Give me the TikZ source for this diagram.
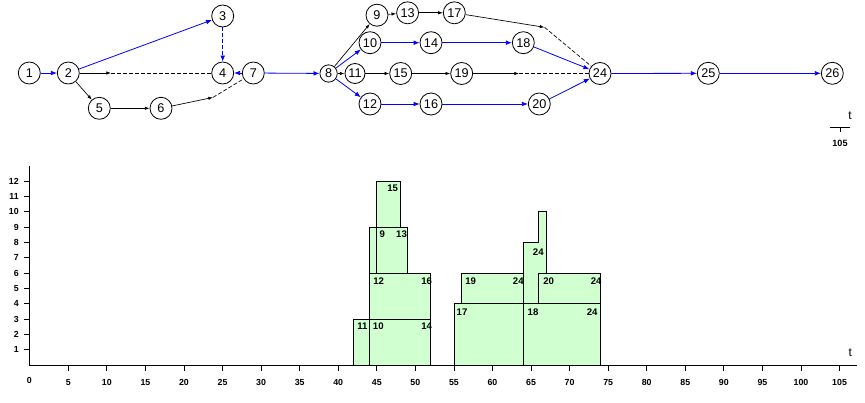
\documentclass[tikz,border=0pt]{standalone}
\usepackage{fontspec}
\setmainfont{Liberation Sans}
\usetikzlibrary{arrows.meta}
\definecolor{hgreen}{RGB}{208,255,208}
\definecolor{eblue}{RGB}{0,0,255}
\begin{document}
\begin{tikzpicture}[x=0.75pt,y=-0.75pt,
 ev/.style={circle,draw,line width=0.6pt,minimum size=16.5pt,inner sep=0pt,fill=white,font=\fontsize{9.5}{10}\selectfont},
 bl/.style={eblue,line width=0.6pt,-{Latex[length=4.5pt,width=3.5pt]}},
 bk/.style={black,line width=0.5pt,-{Latex[length=3.5pt,width=2.5pt]}},
 dsh/.style={dash pattern=on 3pt off 1.5pt},
 bkdash/.style={black,line width=0.5pt,dsh},
 hbox/.style={fill=hgreen,draw=black,line width=0.6pt},
 hlab/.style={inner sep=0pt,font=\bfseries\fontsize{7.2}{8}\selectfont},
 alab/.style={inner sep=0pt,font=\bfseries\fontsize{6.6}{7}\selectfont},
]
\useasboundingbox (0,0) rectangle (865,403);
% ---------------- network ----------------
\node[ev] (n1) at (29.3,73) {1};
\node[ev] (n2) at (68.3,73) {2};
\node[ev] (n3) at (222.7,16) {3};
\node[ev] (n4) at (222.7,73) {4};
\node[ev] (n7) at (253.3,73) {7};
\node[ev] (n5) at (99.3,108.3) {5};
\node[ev] (n6) at (161,108.3) {6};
\node[ev,minimum size=13pt] (n8) at (328.6,73.5) {8};
\node[ev] (n9) at (377,15.2) {9};
\node[ev] (n13) at (407.6,12.8) {13};
\node[ev] (n17) at (454.3,12.8) {17};
\node[ev] (n10) at (370,42.7) {10};
\node[ev] (n14) at (431,42.7) {14};
\node[ev] (n18) at (523.3,42.7) {18};
\node[ev,minimum size=15pt] (n11) at (355,73.5) {11};
\node[ev] (n15) at (400.7,73.5) {15};
\node[ev] (n19) at (461.7,73.5) {19};
\node[ev] (n24) at (600,73.5) {24};
\node[ev] (n12) at (370,104) {12};
\node[ev] (n16) at (431,104) {16};
\node[ev] (n20) at (539.3,104) {20};
\node[ev] (n25) at (708.3,73.3) {25};
\node[ev] (n26) at (832.3,73.3) {26};
\coordinate (m1) at (111,73);
\coordinate (m2) at (213,97.4);
\coordinate (m3) at (544.5,27.3);
\coordinate (m4) at (519,73.5);
% edges
\draw[bl] (n1) -- (n2);
\draw[bl] (n2) -- (n3);
\draw[bl,dsh] (n3) -- (n4);
\draw[bl] (n7) -- (n4);
\draw[bk] (n2) -- (m1); \draw[bkdash] (m1) -- (n4);
\draw[bk] (n2) -- (n5);
\draw[bk] (n5) -- (n6);
\draw[bk] (n6) -- (m2); \draw[bkdash] (m2) -- (n7);
\draw[bl] (n7) -- (n8);
\draw[bk] (n8) -- (n9);
\draw[bk] (n9) -- (n13);
\draw[bk] (n13) -- (n17);
\draw[bk] (n17) -- (m3); \draw[bkdash] (m3) -- (n24);
\draw[bl] (n8) -- (n10);
\draw[bl] (n10) -- (n14);
\draw[bl] (n14) -- (n18);
\draw[bl] (n18) -- (n24);
\draw[bk] (n8) -- (n11);
\draw[bk] (n11) -- (n15);
\draw[bk] (n15) -- (n19);
\draw[bk] (n19) -- (m4); \draw[bkdash] (m4) -- (n24);
\draw[bl] (n8) -- (n12);
\draw[bl] (n12) -- (n16);
\draw[bl] (n16) -- (n20);
\draw[bl] (n20) -- (n24);
\draw[bl] (n24) -- (n25);
\draw[bl] (n25) -- (n26);
% scale mark
\draw[line width=0.6pt] (830,127.3) -- (850,127.3);
\draw[line width=0.6pt] (840,127.3) -- (840,132.5);
\node[inner sep=0pt,font=\fontsize{9}{10}\selectfont] (tt) at (850,115.5) {t};
\node[inner sep=0pt,font=\bfseries\fontsize{6.8}{8}\selectfont] (t105) at (840,143.7) {105};
% ---------------- histogram ----------------
\begin{scope}[shift={(29.7,365)},x=5.785pt,y=11.5pt]
\draw[hbox] (42,0) rectangle (44,3);
\draw[hbox] (44,0) rectangle (52,3);
\draw[hbox] (44,3) rectangle (52,6);
\draw[hbox] (44,6) rectangle (49,9);
\draw[hbox] (45,9) rectangle (48,12);
\draw[line width=0.6pt] (45,6) -- (45,9);
\draw[hbox] (55,0) rectangle (64,4);
\draw[hbox] (56,4) rectangle (64,6);
\draw[hbox] (64,0) rectangle (74,4);
\draw[hbox] (64,4) -- (64,8) -- (66,8) -- (66,10) -- (67,10) -- (67,4) -- cycle;
\draw[hbox] (66,4) rectangle (74,6);
\end{scope}
\node[hlab] (l11) at (362.5,326) {11};
\node[hlab] (l10) at (378.3,326) {10};
\node[hlab] (l14) at (426.7,326) {14};
\node[hlab] (l12) at (378.7,280.7) {12};
\node[hlab] (l16) at (426.7,280.7) {16};
\node[hlab] (l9) at (382.2,234.3) {9};
\node[hlab] (l13) at (401.5,234.3) {13};
\node[hlab] (l15) at (392.7,188.3) {15};
\node[hlab] (l19) at (470.7,280.7) {19};
\node[hlab] (l24a) at (518.3,280.7) {24};
\node[hlab] (l20) at (548.7,280.7) {20};
\node[hlab] (l24b) at (596.2,280.7) {24};
\node[hlab] (l17) at (462,311.7) {17};
\node[hlab] (l18) at (533,311.7) {18};
\node[hlab] (l24c) at (592.2,311.7) {24};
\node[hlab] (l24d) at (538.3,251.7) {24};
% axes
\draw[line width=0.7pt] (29.7,165.7) -- (29.7,365) -- (857,365);
\foreach \k in {1,...,21} {
  \pgfmathtruncatemacro\v{5*\k}
  \draw[line width=0.6pt] ({29.7+7.713*5*\k},365) -- ({29.7+7.713*5*\k},370.7);
  \node[alab] (x\k) at ({29.7+7.713*5*\k},382.7) {\v};
}
\node[alab] (x0) at (29.3,380) {0};
\foreach \j in {1,...,12} {
  \draw[line width=0.6pt] (24,{365-15.33*\j}) -- (29.7,{365-15.33*\j});
  \node[alab,anchor=east] (y\j) at (19,{365-15.33*\j}) {\j};
}
\node[inner sep=0pt,font=\fontsize{9}{10}\selectfont] (tx) at (850.3,352.7) {t};
\end{tikzpicture}
\end{document}
